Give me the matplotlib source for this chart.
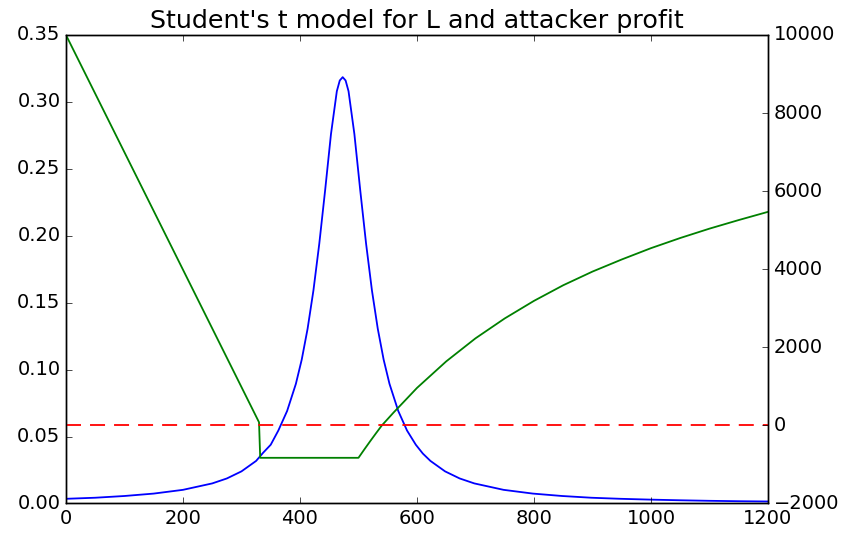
import matplotlib
matplotlib.use("Agg")
import matplotlib.pyplot as plt

# Student's t density of L
l_values = [0, 50, 100, 150, 200, 250, 275, 300, 325, 337, 350, 363, 378,
            393, 403, 413, 423, 433, 443, 453, 463, 468, 473, 478, 483, 493,
            503, 513, 523, 533, 543, 553, 568, 583, 598, 610, 623, 648, 673,
            698, 748, 798, 848, 898, 948, 998, 1050, 1100, 1150, 1200]
density = [0.0035, 0.0043, 0.0056, 0.0074, 0.0102, 0.0150, 0.0187, 0.0240,
           0.0318, 0.0379, 0.0439, 0.0545, 0.0691, 0.0894, 0.1075, 0.1305,
           0.1592, 0.1941, 0.2340, 0.2760, 0.3080, 0.3160, 0.3185, 0.3160,
           0.3080, 0.2760, 0.2340, 0.1941, 0.1592, 0.1305, 0.1075, 0.0894,
           0.0691, 0.0545, 0.0439, 0.0373, 0.0318, 0.0240, 0.0187, 0.0150,
           0.0102, 0.0074, 0.0056, 0.0043, 0.0035, 0.0029, 0.0024, 0.0020,
           0.0017, 0.0015]

# attacker profit against L
profit_l = [0, 330, 332, 500, 510, 520, 530, 540, 560, 575, 600, 650, 700,
            750, 800, 850, 900, 950, 1000, 1050, 1100, 1150, 1200]
profit = [10000, 80, -830, -830, -615, -405, -200, 0, 330, 565, 960, 1640,
          2230, 2740, 3190, 3590, 3940, 4250, 4540, 4800, 5040, 5260, 5470]

zero_l = [0, 1200]
zero_profit = [0, 0]

plt.style.use("classic")
plt.rcParams["font.size"] = 14
plt.rcParams["lines.scale_dashes"] = False

fig = plt.figure(figsize=(8.47, 5.35), dpi=100, facecolor="white")
ax = fig.add_axes([0.0779, 0.0589, 0.8288, 0.8757])
ax.plot(l_values, density, color="b", lw=1.3)
ax.set_xlim(0, 1200)
ax.set_ylim(0, 0.35)
ax.set_yticks([0, 0.05, 0.1, 0.15, 0.2, 0.25, 0.3, 0.35])
ax.set_title("Student's t model for L and attacker profit", fontsize=18.3)

ax2 = ax.twinx()
ax2.plot(profit_l, profit, color="g", lw=1.3)
ax2.plot(zero_l, zero_profit, color="r", lw=1.3, ls="--", dashes=[10.8, 6.5])
ax2.set_xlim(0, 1200)
ax2.set_ylim(-2000, 10000)
ax2.set_yticks(range(-2000, 10001, 2000))

fig.savefig("out.png", facecolor="white")
